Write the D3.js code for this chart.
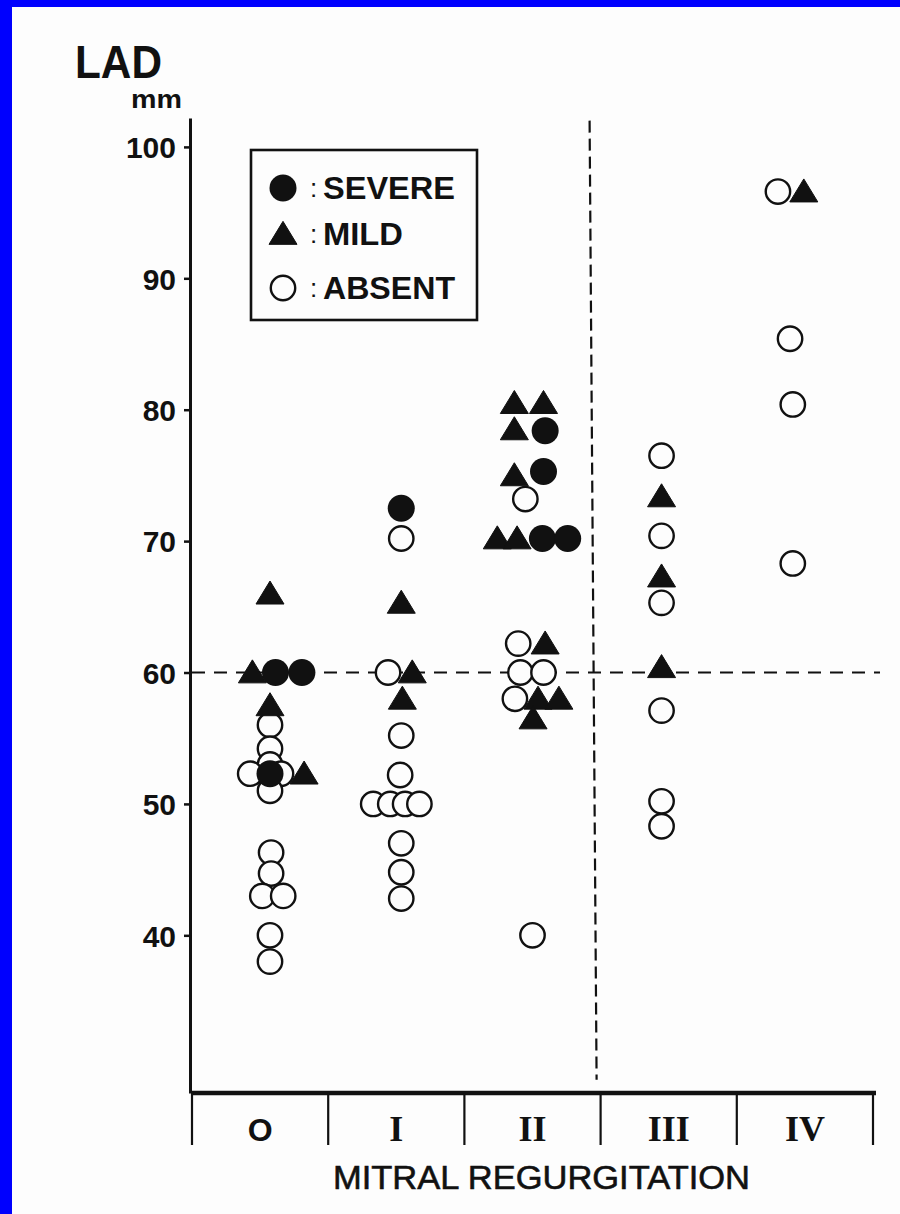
<!DOCTYPE html>
<html>
<head>
<meta charset="utf-8">
<script src="https://cdn.jsdelivr.net/npm/d3@7"></script>
<style>
  html, body { margin: 0; padding: 0; background: #0000fe; }
  svg { display: block; }
</style>
</head>
<body>
<svg id="chart" width="900" height="1214"></svg>
<script>
// Mitral regurgitation grade (x) vs. left atrial dimension (y)
const categories = ["O", "I", "II", "III", "IV"];
const severities = ["SEVERE", "MILD", "ABSENT"];
const yTicks = [40, 50, 60, 70, 80, 90, 100];

// Each point: [LAD in mm, severity, slot for side-by-side dodging within the grade]
const gradeO = [
  [66, "MILD", 0.9], [60, "MILD", -0.7], [60, "SEVERE", 1.4], [60, "SEVERE", 3.8],
  [57.5, "MILD", 0.9], [56, "ABSENT", 0.9], [54.2, "ABSENT", 0.9], [53, "ABSENT", 0.9],
  [52.3, "ABSENT", -0.9], [52.3, "SEVERE", 0.9], [52.3, "ABSENT", 1.9], [52.3, "MILD", 4],
  [51, "ABSENT", 0.9], [46.3, "ABSENT", 1], [44.7, "ABSENT", 1], [43, "ABSENT", 0.2],
  [43, "ABSENT", 2.1], [40, "ABSENT", 0.9], [38, "ABSENT", 0.9]
];
const gradeI = [
  [72.5, "SEVERE", 0.45], [70.2, "ABSENT", 0.45], [65.3, "MILD", 0.45], [60, "ABSENT", -0.75],
  [60, "MILD", 1.45], [58, "MILD", 0.55], [55.2, "ABSENT", 0.45], [52.2, "ABSENT", 0.35],
  [50, "ABSENT", -2.1], [50, "ABSENT", -0.55], [50, "ABSENT", 0.8], [50, "ABSENT", 2.1],
  [47, "ABSENT", 0.45], [44.8, "ABSENT", 0.45], [42.8, "ABSENT", 0.45]
];
const gradeII = [
  [80.5, "MILD", -1.65], [80.5, "MILD", 1], [78.5, "MILD", -1.65], [78.4, "SEVERE", 1.15],
  [75, "MILD", -1.65], [75.3, "SEVERE", 1], [73.2, "ABSENT", -0.65], [70.2, "MILD", -3.2],
  [70.2, "MILD", -1.4], [70.2, "SEVERE", 0.9], [70.2, "SEVERE", 3.2], [62.2, "ABSENT", -1.3],
  [62.2, "MILD", 1.15], [60, "ABSENT", -1.1], [60, "ABSENT", 1], [58, "ABSENT", -1.6],
  [58, "MILD", 0.5], [58, "MILD", 2.4], [56.5, "MILD", 0.05], [40, "ABSENT", 0]
];
const gradeIII = [
  [76.5, "ABSENT", -0.65], [73.4, "MILD", -0.65], [70.4, "ABSENT", -0.65], [67.3, "MILD", -0.65],
  [65.3, "ABSENT", -0.65], [60.4, "MILD", -0.65], [57.1, "ABSENT", -0.65], [50.2, "ABSENT", -0.65],
  [48.3, "ABSENT", -0.65]
];
const gradeIV = [
  [96.6, "ABSENT", -2.45], [96.6, "MILD", -0.1], [85.4, "ABSENT", -1.35], [80.4, "ABSENT", -1.1],
  [68.3, "ABSENT", -1.1]
];
const groups = [gradeO, gradeI, gradeII, gradeIII, gradeIV];
const thresholdLAD = 60;

const svg = d3.select("#chart");
const W = 900, H = 1214;

// paper
svg.append("rect").attr("x", 12).attr("y", 7).attr("width", W - 12).attr("height", H - 7)
  .attr("fill", "#fdfdfd");

const x = d3.scaleBand().domain(categories).range([192, 873]).paddingInner(0).paddingOuter(0);
const y = d3.scaleLinear().domain([28, 102.2]).range([1093, 118]);
const slot = d3.scaleLinear().domain([0, 1]).range([0, 11]);

const ink = "#111";
const sans = "'Liberation Sans', Arial, Helvetica, sans-serif";
const serif = "'Liberation Serif', 'Times New Roman', serif";

// y axis
const yAxis = svg.append("g").attr("transform", "translate(190,0)")
  .call(d3.axisLeft(y).tickValues(yTicks).tickSize(6).tickSizeOuter(0).tickPadding(8));
yAxis.select(".domain").attr("stroke", ink).attr("stroke-width", 3);
yAxis.selectAll(".tick line").attr("stroke", ink).attr("stroke-width", 2.5);
yAxis.selectAll(".tick text")
  .attr("fill", ink).attr("font-family", sans).attr("font-weight", "bold")
  .attr("font-size", 30).attr("dy", "0.36em");

// axis title
svg.append("text").attr("x", 75).attr("y", 78).text("LAD")
  .attr("font-family", sans).attr("font-weight", "bold").attr("font-size", 46)
  .attr("textLength", 87).attr("lengthAdjust", "spacingAndGlyphs").attr("fill", ink);
svg.append("text").attr("x", 131).attr("y", 108).text("mm")
  .attr("font-family", sans).attr("font-weight", "bold").attr("font-size", 25)
  .attr("textLength", 51).attr("lengthAdjust", "spacingAndGlyphs").attr("fill", ink);

// x axis: thick baseline with grade compartments below
const xAxisY = y(28);
svg.append("line").attr("x1", x.range()[0]).attr("x2", x.range()[1] + 3)
  .attr("y1", xAxisY).attr("y2", xAxisY).attr("stroke", ink).attr("stroke-width", 4.5);
const bounds = categories.map(c => x(c)).concat([x.range()[1]]);
svg.selectAll("line.divider").data(bounds).join("line").attr("class", "divider")
  .attr("x1", d => d).attr("x2", d => d)
  .attr("y1", xAxisY).attr("y2", xAxisY + 52)
  .attr("stroke", ink).attr("stroke-width", 2.2);
svg.selectAll("text.grade").data(categories).join("text").attr("class", "grade")
  .attr("x", d => x(d) + x.bandwidth() / 2).attr("y", xAxisY + 48)
  .attr("text-anchor", "middle").attr("font-family", d => d === "O" ? sans : serif)
  .attr("font-weight", "bold").attr("font-size", d => d === "O" ? 32 : 36).attr("fill", ink)
  .text(d => d);
svg.append("text").attr("x", 333).attr("y", 1189).text("MITRAL REGURGITATION")
  .attr("font-family", sans).attr("font-size", 34).attr("fill", ink)
  .attr("textLength", 417).attr("lengthAdjust", "spacingAndGlyphs")
  .attr("stroke", ink).attr("stroke-width", 0.6);

// reference lines: LAD 60 mm and the grade II / III boundary
svg.append("line").attr("x1", 192).attr("x2", 880)
  .attr("y1", y(thresholdLAD)).attr("y2", y(thresholdLAD))
  .attr("stroke", ink).attr("stroke-width", 2.2).attr("stroke-dasharray", "13,9");
svg.append("line").attr("x1", x("III") - 11).attr("x2", x("III") - 4)
  .attr("y1", y(102)).attr("y2", y(29))
  .attr("stroke", ink).attr("stroke-width", 2.2).attr("stroke-dasharray", "12,6");

// markers
const triPath = (w, h) => `M0,${-h * 0.55}L${w / 2},${h * 0.45}L${-w / 2},${h * 0.45}Z`;
function drawMarker(sel, kind, scale) {
  const k = scale || 1;
  if (kind === "SEVERE") {
    sel.append("circle").attr("r", 13.5 * k).attr("fill", ink);
  } else if (kind === "MILD") {
    sel.append("path").attr("d", triPath(28 * k, 23 * k)).attr("fill", ink)
      .attr("stroke", ink).attr("stroke-width", 1).attr("stroke-linejoin", "round");
  } else {
    sel.append("circle").attr("r", 12.2 * k).attr("fill", "#fdfdfd")
      .attr("stroke", ink).attr("stroke-width", 2.4);
  }
}

const points = [];
groups.forEach((g, i) => g.forEach(([v, kind, s]) => points.push({ cat: categories[i], v, kind, s })));
const order = { ABSENT: 0, MILD: 1, SEVERE: 2 };
points.sort((a, b) => order[a.kind] - order[b.kind]);

const pts = svg.append("g").selectAll("g.pt").data(points).join("g").attr("class", "pt")
  .attr("transform", d => `translate(${x(d.cat) + x.bandwidth() / 2 + slot(d.s)},${y(d.v)})`);
pts.each(function (d) { drawMarker(d3.select(this), d.kind); });

// legend
const legend = svg.append("g");
legend.append("rect").attr("x", 251).attr("y", 150).attr("width", 226).attr("height", 170)
  .attr("fill", "#fdfdfd").attr("stroke", ink).attr("stroke-width", 2.6);
const legendRows = [188, 234, 288];
const legendLen = { SEVERE: 132, MILD: 80, ABSENT: 132 };
severities.forEach((s, i) => {
  const row = legend.append("g").attr("transform", `translate(283,${legendRows[i]})`);
  drawMarker(row, s, 1);
  legend.append("text").attr("x", 310).attr("y", legendRows[i] + 9).text(":")
    .attr("font-family", sans).attr("font-size", 26).attr("fill", ink);
  legend.append("text").attr("x", 323).attr("y", legendRows[i] + 11).text(s)
    .attr("font-family", sans).attr("font-weight", "bold").attr("font-size", 31)
    .attr("textLength", legendLen[s]).attr("lengthAdjust", "spacingAndGlyphs").attr("fill", ink);
});
</script>
</body>
</html>
